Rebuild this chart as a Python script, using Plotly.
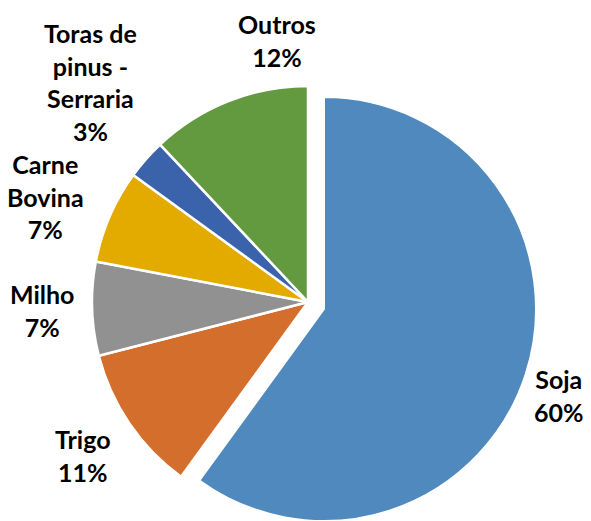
import plotly.graph_objects as go

# ---- data ----
categories = ["Soja", "Trigo", "Milho", "Carne<br>Bovina", "Toras de<br>pinus -<br>Serraria", "Outros"]
values = [60, 11, 7, 7, 3, 12]
colors = ["#4F89BD", "#D36E2D", "#919191", "#E3AA00", "#3B63AC", "#639A40"]

# ---- layout helpers (screen pixel coordinates of the 591x521 window) ----
OFF = 8                      # page body margin
W, H = 591 - OFF, 521 - OFF  # figure size so it fits the window
label_pos = [(559, 395), (83, 455), (42, 310), (45, 196), (90, 82), (277, 40)]

total = sum(values)
transparent = "rgba(0,0,0,0)"

def dom(cx, cy, r):
    cx, cy = cx - OFF, cy - OFF
    return dict(x=[max(0, (cx - r) / W), min(1, (cx + r) / W)],
                y=[max(0, (H - cy - r) / H), min(1, (H - cy + r) / H)])

fig = go.Figure()
# main pie (all slices except the exploded one)
fig.add_trace(go.Pie(
    labels=categories, values=values, sort=False, direction="clockwise", rotation=0,
    marker=dict(colors=[transparent] + colors[1:],
                line=dict(color="white", width=[0] + [2.5] * (len(values) - 1))),
    textinfo="none", hoverinfo="label+percent", showlegend=False,
    domain=dom(308, 302, 216),
))
# exploded slice (Soja)
fig.add_trace(go.Pie(
    labels=categories, values=values, sort=False, direction="clockwise", rotation=0,
    marker=dict(colors=[colors[0]] + [transparent] * (len(values) - 1),
                line=dict(color="white", width=[2] + [0] * (len(values) - 1))),
    textinfo="none", hoverinfo="label+percent", showlegend=False,
    domain=dom(324, 309, 212),
))

annotations = []
for cat, v, (px, py) in zip(categories, values, label_pos):
    pct = round(100 * v / total)
    annotations.append(dict(
        text=f"{cat}<br>{pct}%", x=(px - OFF) / W, y=1 - (py - OFF) / H,
        xref="paper", yref="paper",
        xanchor="center", yanchor="middle", showarrow=False, align="center",
        font=dict(family="Lato", size=25, color="black", weight="bold"),
    ))

fig.update_layout(
    width=W, height=H, margin=dict(l=0, r=0, t=0, b=0),
    paper_bgcolor="white", plot_bgcolor="white",
    annotations=annotations, showlegend=False,
)
fig.write_html("out.html")
